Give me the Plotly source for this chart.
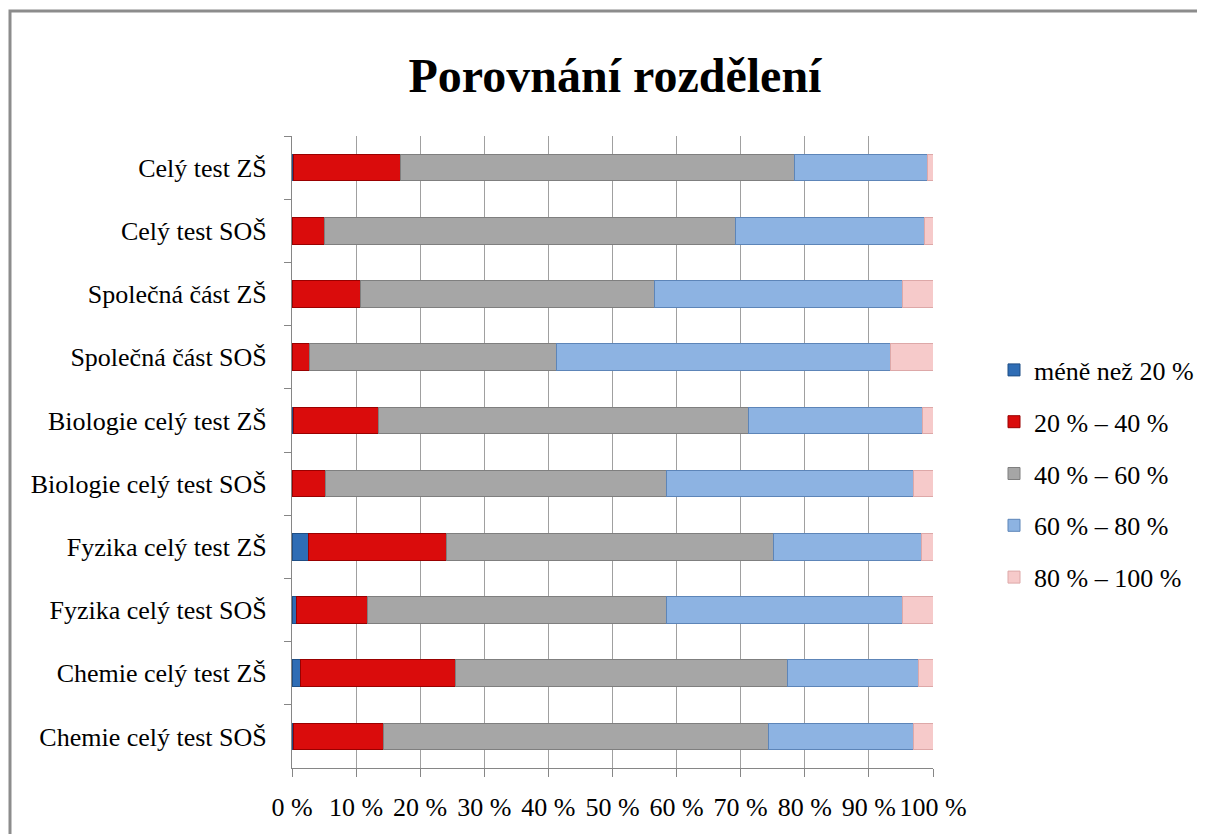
import plotly.graph_objects as go

categories = [
    "Celý test ZŠ",
    "Celý test SOŠ",
    "Společná část ZŠ",
    "Společná část SOŠ",
    "Biologie celý test ZŠ",
    "Biologie celý test SOŠ",
    "Fyzika celý test ZŠ",
    "Fyzika celý test SOŠ",
    "Chemie celý test ZŠ",
    "Chemie celý test SOŠ",
]

series_names = ["méně než 20 %", "20 % – 40 %", "40 % – 60 %", "60 % – 80 %", "80 % – 100 %"]

s_below20 = [0.3, 0.0, 0.0, 0.0, 0.2, 0.0, 2.5, 0.7, 1.3, 0.2]
s_20_40 = [16.7, 5.1, 10.7, 2.8, 13.3, 5.3, 21.6, 11.1, 24.2, 14.1]
s_40_60 = [61.4, 64.1, 45.8, 38.4, 57.7, 53.1, 51.0, 46.6, 51.8, 60.1]
s_60_80 = [20.7, 29.5, 38.8, 52.1, 27.2, 38.6, 23.1, 36.9, 20.5, 22.6]
s_80_100 = [0.9, 1.3, 4.7, 6.7, 1.6, 3.0, 1.8, 4.7, 2.2, 3.0]

series_values = [s_below20, s_20_40, s_40_60, s_60_80, s_80_100]
colors = ["#2F6DB5", "#DA0C0C", "#A6A6A6", "#8DB3E2", "#F6CACA"]
edge_colors = ["#1F4E85", "#9A0000", "#7F7F7F", "#5D85B8", "#DDA8A8"]

x_tickvals = [0, 10, 20, 30, 40, 50, 60, 70, 80, 90, 100]
x_ticktext = ["0 %", "10 %", "20 %", "30 %", "40 %", "50 %", "60 %", "70 %", "80 %", "90 %", "100 %"]

FONT = "Liberation Serif, Times New Roman, serif"

fig = go.Figure()
for i, (name, vals) in enumerate(zip(series_names, series_values)):
    fig.add_trace(go.Bar(
        y=categories,
        x=vals,
        name=name,
        orientation="h",
        legendgroup=f"g{i}",
        marker=dict(color=colors[i], line=dict(color=edge_colors[i], width=1)),
        hoverinfo="x+y+name",
    ))

# page body has an 8px margin; figure sized to fit the 1205x834 window exactly
OFF = 8
W, H = 1205 - OFF, 834 - OFF
L, T = 292 - OFF, 136 - OFF
pw, ph = 641, 632
R, B = W - L - pw, H - T - ph

def px_x(sx):
    return (sx - OFF - L) / pw

def px_y(sy):
    return (T + ph - (sy - OFF)) / ph

fig.update_layout(
    width=W,
    height=H,
    barmode="stack",
    bargap=0.58,
    plot_bgcolor="white",
    paper_bgcolor="white",
    margin=dict(l=L, r=R, t=T, b=B, autoexpand=False),
    font=dict(family=FONT, color="black", size=26),
    title=dict(
        text="<b>Porovnání rozdělení</b>",
        font=dict(family=FONT, size=48, color="black"),
        x=(615 - OFF) / W,
        xref="container",
        xanchor="center",
        y=1 - (75 - OFF) / H,
        yref="container",
        yanchor="middle",
    ),
    xaxis=dict(
        range=[0, 100],
        tickvals=x_tickvals,
        ticktext=x_ticktext,
        showgrid=True,
        gridcolor="#A0A0A0",
        gridwidth=1,
        zeroline=False,
        showline=True,
        linecolor="#868686",
        linewidth=1,
        ticks="outside",
        ticklen=8,
        tickcolor="#868686",
        tickfont=dict(family=FONT, size=26),
        ticklabelstandoff=8,
        fixedrange=True,
    ),
    yaxis=dict(
        categoryorder="array",
        categoryarray=categories,
        autorange="reversed",
        showline=True,
        linecolor="#868686",
        linewidth=1,
        ticks="outside",
        tickson="boundaries",
        ticklen=7,
        tickcolor="#868686",
        tickfont=dict(family=FONT, size=26),
        ticklabelstandoff=19,
        showgrid=False,
        fixedrange=True,
    ),
    legend=dict(
        x=px_x(994),
        xanchor="left",
        y=px_y(474),
        yanchor="middle",
        traceorder="grouped",
        tracegroupgap=15,
        font=dict(family=FONT, size=26),
        itemwidth=30,
        bgcolor="rgba(0,0,0,0)",
    ),
    shapes=[
        dict(
            type="rect",
            xref="paper",
            yref="paper",
            x0=px_x(10),
            x1=px_x(1230),
            y0=px_y(860),
            y1=px_y(11),
            line=dict(color="#8C8C8C", width=3),
            fillcolor="rgba(0,0,0,0)",
            layer="below",
        )
    ],
)

fig.write_html("out.html")
